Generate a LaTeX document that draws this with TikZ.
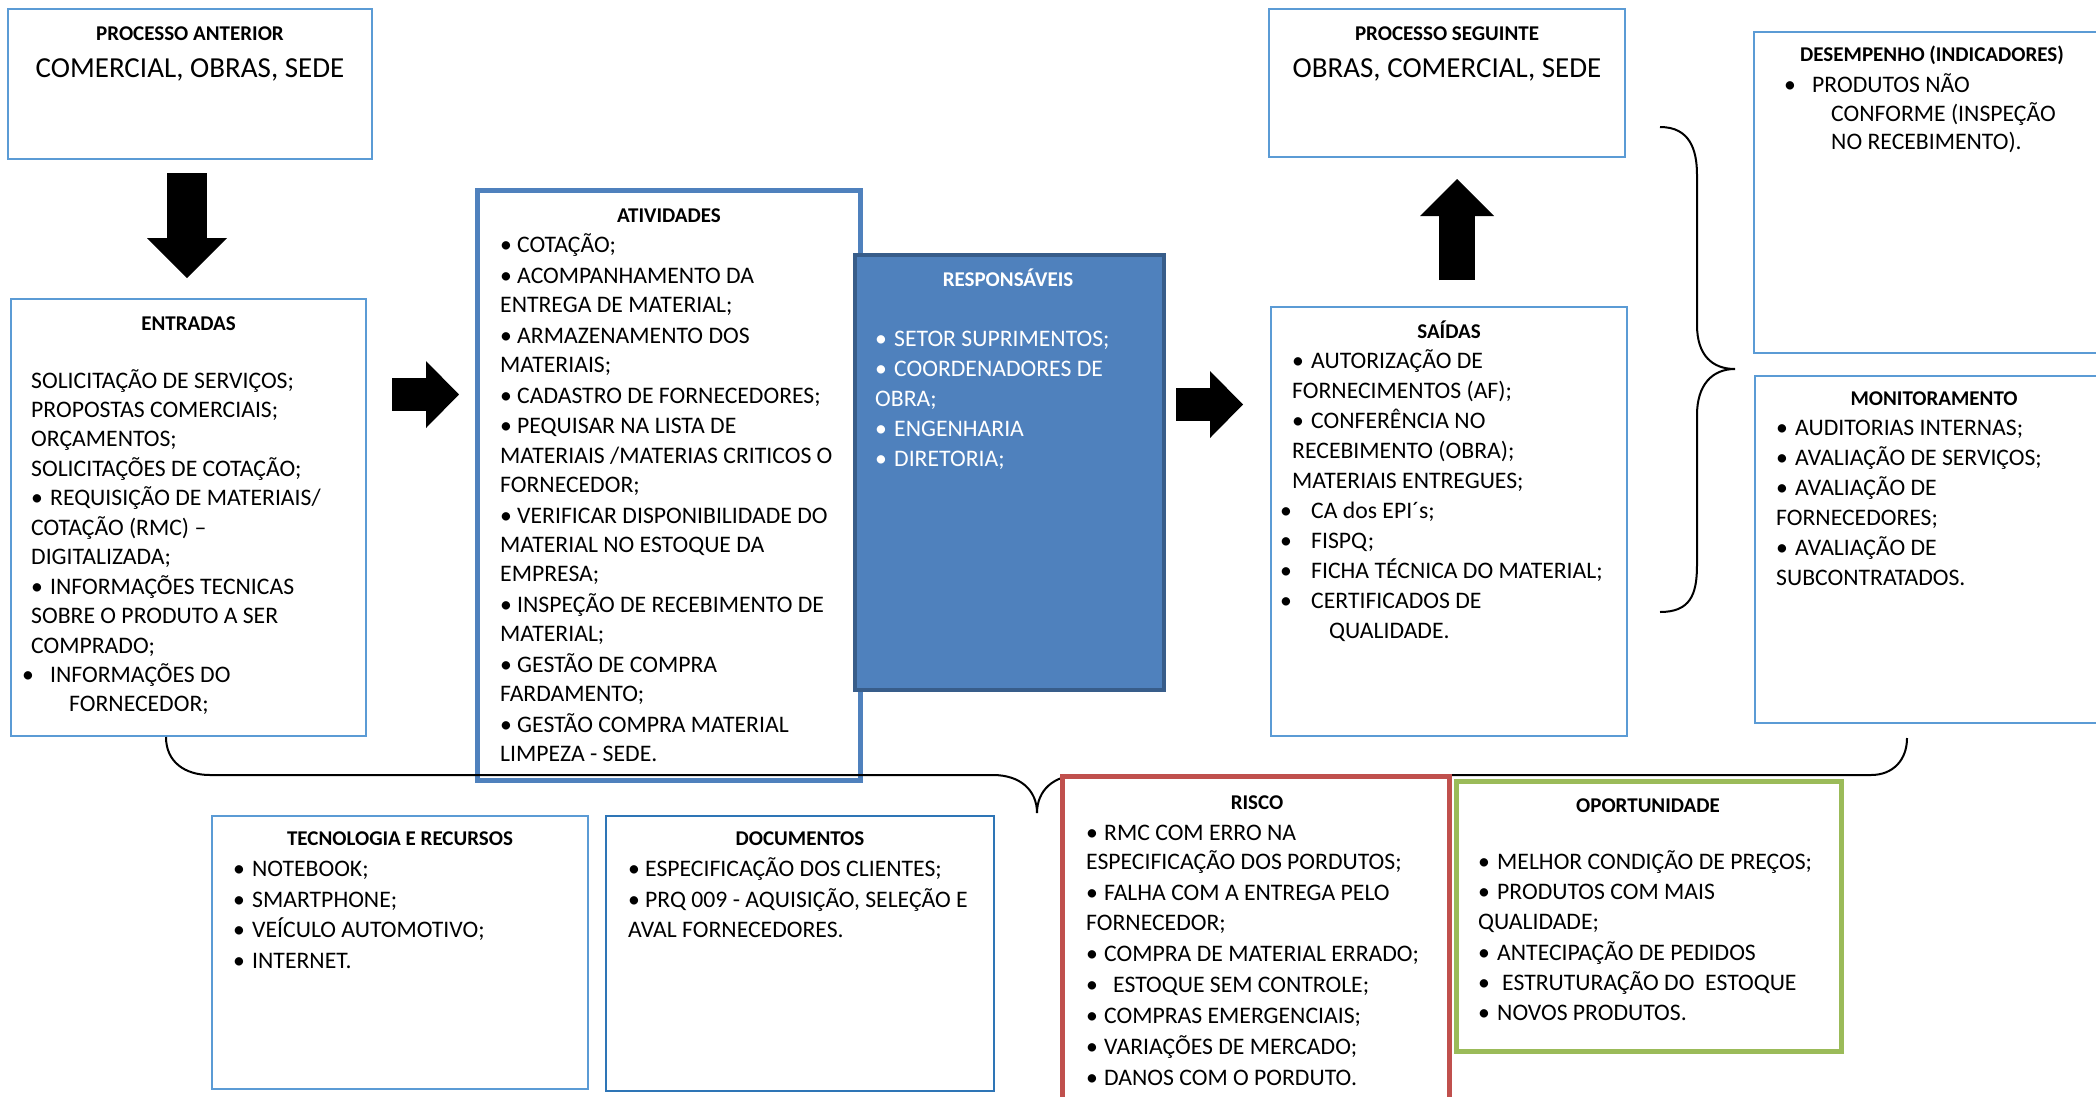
\documentclass[tikz,border=0pt]{standalone}
\usepackage{fontspec}
\setmainfont{Carlito}
\usepackage{tikz}
\usetikzlibrary{arrows.meta}

\definecolor{boxblue}{RGB}{91,155,213}
\definecolor{docblue}{RGB}{46,117,182}
\definecolor{ativblue}{RGB}{79,129,189}
\definecolor{respline}{RGB}{56,93,138}
\definecolor{riskred}{RGB}{192,80,77}
\definecolor{opgreen}{RGB}{155,187,89}

\newcommand{\bul}[1]{\makebox[#1][l]{•}}

\tikzset{
  box/.style={rectangle, draw=boxblue, line width=1.3pt, fill=white,
    anchor=north west, inner sep=0pt, outer sep=0pt},
  ttl/.style={anchor=base, inner sep=0pt, font=\fontsize{21}{25}\selectfont\bfseries},
  big/.style={anchor=base, inner sep=0pt, font=\fontsize{29}{35}\selectfont},
  body/.style={anchor=base west, inner sep=0pt, font=\fontsize{23.7}{29.5}\selectfont,
    execute at begin node={\begin{minipage}[t]{#1}\raggedright},
    execute at end node={\end{minipage}}},
  blockarrow/.style n args={3}{line width=#1,
    -{Triangle[width=#2,length=#3,line width=0pt]}},
  brace/.style={draw=black, line width=2pt},
}

\begin{document}
\begin{tikzpicture}[x=1pt,y=-1pt]
    \useasboundingbox (0,0) rectangle (2096,1096);
    \clip (0,0) rectangle (2096,1096);

    \node[box, minimum width=364pt, minimum height=150pt] (ant) at (8,9) {};
    \node[box, minimum width=356pt, minimum height=148pt] (seg) at (1269,9) {};
    \node[box, minimum width=355pt, minimum height=437pt] (entr) at (11,299) {};
    \node[box, draw=ativblue, line width=5pt, minimum width=383pt, minimum height=590pt] (ativ) at (477.5,190.5) {};
    \node[box, draw=respline, fill=ativblue, line width=4pt, minimum width=309pt, minimum height=435pt] (resp) at (855,255) {};
    \node[box, minimum width=356pt, minimum height=429pt] (said) at (1271,307) {};
    \node[box, minimum width=366pt, minimum height=321pt] (desemp) at (1754,32) {};
    \node[box, minimum width=366pt, minimum height=347pt] (monit) at (1755,376) {};
    \node[box, minimum width=376pt, minimum height=273pt] (tecn) at (212,816) {};
    \node[box, draw=docblue, minimum width=388pt, minimum height=275pt] (docs) at (606,816) {};

    \node[ttl] (antT) at (190,40) {PROCESSO ANTERIOR};
    \node[big] (antM) at (190,77) {COMERCIAL, OBRAS, SEDE};
    \node[ttl] (segT) at (1447,40) {PROCESSO SEGUINTE};
    \node[big] (segM) at (1447,77) {OBRAS, COMERCIAL, SEDE};

    \node[ttl] (entrT) at (188.5,330) {ENTRADAS};
    \node[body=340pt, font=\fontsize{23.7}{29.45}\selectfont] (entrB) at (31,388) {SOLICITAÇÃO DE SERVIÇOS;\\
      PROPOSTAS COMERCIAIS;\\ ORÇAMENTOS;\\ SOLICITAÇÕES DE COTAÇÃO;\\
      \bul{19pt}REQUISIÇÃO DE MATERIAIS/\\ COTAÇÃO (RMC) –\\ DIGITALIZADA;\\
      \bul{19pt}INFORMAÇÕES TECNICAS\\ SOBRE O PRODUTO A SER\\ COMPRADO;\\
      \hspace*{-9pt}\bul{28pt}INFORMAÇÕES DO\\ \hspace*{38pt}FORNECEDOR;};

    \node[ttl] (ativT) at (669,222.6) {ATIVIDADES};
    \node[body=370pt, font=\fontsize{23.7}{29.3}\selectfont] (ativB) at (500,252.5) {\bul{17pt}COTAÇÃO;\\[1.4pt]
      \bul{17pt}ACOMPANHAMENTO DA\\ ENTREGA DE MATERIAL;\\[1.4pt]
      \bul{17pt}ARMAZENAMENTO DOS\\ MATERIAIS;\\[1.4pt]
      \bul{17pt}CADASTRO DE FORNECEDORES;\\[1.4pt]
      \bul{17pt}PEQUISAR NA LISTA DE\\ MATERIAIS /MATERIAS CRITICOS O\\ FORNECEDOR;\\[1.4pt]
      \bul{17pt}VERIFICAR DISPONIBILIDADE DO\\ MATERIAL NO ESTOQUE DA\\ EMPRESA;\\[1.4pt]
      \bul{17pt}INSPEÇÃO DE RECEBIMENTO DE\\ MATERIAL;\\[1.4pt]
      \bul{17pt}GESTÃO DE COMPRA\\ FARDAMENTO;\\[1.4pt]
      \bul{17pt}GESTÃO COMPRA MATERIAL\\ LIMPEZA - SEDE.};

    \node[ttl, text=white] (respT) at (1008,286.6) {RESPONSÁVEIS};
    \node[body=280pt, font=\fontsize{23.7}{30}\selectfont] (respB) at (875,346.5) {\leavevmode\color{white}\bul{19pt}SETOR SUPRIMENTOS;\\
      \bul{19pt}COORDENADORES DE\\ OBRA;\\ \bul{19pt}ENGENHARIA\\ \bul{19pt}DIRETORIA;};

    \node[ttl] (saidT) at (1449,338.6) {SAÍDAS};
    \node[body=330pt, font=\fontsize{23.7}{30}\selectfont] (saidB) at (1292,368.5) {\bul{19pt}AUTORIZAÇÃO DE\\
      FORNECIMENTOS (AF);\\ \bul{19pt}CONFERÊNCIA NO\\ RECEBIMENTO (OBRA);\\ MATERIAIS ENTREGUES;\\
      \hspace*{-12pt}\bul{31pt}CA dos EPI´s;\\ \hspace*{-12pt}\bul{31pt}FISPQ;\\
      \hspace*{-12pt}\bul{31pt}FICHA TÉCNICA DO MATERIAL;\\
      \hspace*{-12pt}\bul{31pt}CERTIFICADOS DE\\ \hspace*{37pt}QUALIDADE.};

    \node[ttl] (desT) at (1932,61.6) {DESEMPENHO (INDICADORES)};
    \node[body=300pt, font=\fontsize{23.7}{28.5}\selectfont] (desB) at (1784,92.5) {\bul{28pt}PRODUTOS NÃO\\
      \hspace*{47pt}CONFORME (INSPEÇÃO\\ \hspace*{47pt}NO RECEBIMENTO).};

    \node[ttl] (monT) at (1934,405.6) {MONITORAMENTO};
    \node[body=310pt, font=\fontsize{23.7}{30}\selectfont] (monB) at (1776,435.5) {\bul{19pt}AUDITORIAS INTERNAS;\\
      \bul{19pt}AVALIAÇÃO DE SERVIÇOS;\\ \bul{19pt}AVALIAÇÃO DE\\ FORNECEDORES;\\
      \bul{19pt}AVALIAÇÃO DE\\ SUBCONTRATADOS.};

    \node[ttl] (tecT) at (400,845.6) {TECNOLOGIA E RECURSOS};
    \node[body=340pt, font=\fontsize{23.7}{30.7}\selectfont] (tecB) at (233,876.5) {\bul{19pt}NOTEBOOK;\\
      \bul{19pt}SMARTPHONE;\\ \bul{19pt}VEÍCULO AUTOMOTIVO;\\ \bul{19pt}INTERNET.};

    \node[ttl] (docT) at (800,845.6) {DOCUMENTOS};
    \node[body=360pt, font=\fontsize{23.7}{30.5}\selectfont] (docB) at (628,876.5) {\bul{17pt}ESPECIFICAÇÃO DOS CLIENTES;\\
      \bul{17pt}PRQ 009 - AQUISIÇÃO, SELEÇÃO E\\ AVAL FORNECEDORES.};

    \coordinate (dn) at (187,0);
    \coordinate (r1) at (0,394.5);
    \coordinate (r2) at (0,404.5);
    \coordinate (up) at (1457,0);
    \draw[blockarrow={40pt}{80pt}{40pt}, shorten <=14pt, shorten >=21pt] (ant.south -| dn) -- (entr.north -| dn);
    \draw[blockarrow={33pt}{67pt}{33pt}, shorten <=26pt, shorten >=18.5pt] (entr.east |- r1) -- (ativ.west |- r1);
    \draw[blockarrow={33pt}{67pt}{33pt}, shorten <=12pt, shorten >=28pt] (resp.east |- r2) -- (said.west |- r2);
    \draw[blockarrow={36pt}{74pt}{37pt}, shorten <=27pt, shorten >=22pt] (said.north -| up) -- (seg.south -| up);

    \draw[brace] (1660,127) .. controls (1690,127) and (1697,150) .. (1697,175)
      -- (1697,325) .. controls (1697,355) and (1712,369) .. (1735,369)
      .. controls (1712,369) and (1697,385) .. (1697,415)
      -- (1697,565) .. controls (1697,595) and (1690,612) .. (1660,612);
    \draw[brace] (166,737) .. controls (166,762) and (185,775) .. (210,775)
      -- (993,775) .. controls (1020,775) and (1037,790) .. (1037,813)
      .. controls (1037,790) and (1054,775) .. (1080,775)
      -- (1871,775) .. controls (1893,775) and (1907,760) .. (1907,738);

    \node[box, draw=riskred, line width=5pt, minimum width=387pt, minimum height=340pt] (risco) at (1062.5,776.5) {};
    \node[box, draw=opgreen, line width=5pt, minimum width=385pt, minimum height=270pt] (oport) at (1456,781) {};

    \node[ttl] (riskT) at (1257,809.6) {RISCO};
    \node[body=370pt, font=\fontsize{23.7}{29.3}\selectfont] (riskB) at (1086,840.5) {\bul{18pt}RMC COM ERRO NA\\
      ESPECIFICAÇÃO DOS PORDUTOS;\\[1.7pt] \bul{18pt}FALHA COM A ENTREGA PELO\\ FORNECEDOR;\\[1.7pt]
      \bul{18pt}COMPRA DE MATERIAL ERRADO;\\[1.7pt] \bul{27pt}ESTOQUE SEM CONTROLE;\\[1.7pt]
      \bul{18pt}COMPRAS EMERGENCIAIS;\\[1.7pt] \bul{18pt}VARIAÇÕES DE MERCADO;\\[1.7pt]
      \bul{18pt}DANOS COM O PORDUTO.};

    \node[ttl] (opT) at (1648,812.6) {OPORTUNIDADE};
    \node[body=360pt, font=\fontsize{23.7}{30.2}\selectfont] (opB) at (1478,869.5) {\bul{19pt}MELHOR CONDIÇÃO DE PREÇOS;\\
      \bul{19pt}PRODUTOS COM MAIS\\ QUALIDADE;\\ \bul{19pt}ANTECIPAÇÃO DE PEDIDOS\\
      \bul{24pt}ESTRUTURAÇÃO DO\ \ ESTOQUE\\ \bul{19pt}NOVOS PRODUTOS.};
\end{tikzpicture}
\end{document}
